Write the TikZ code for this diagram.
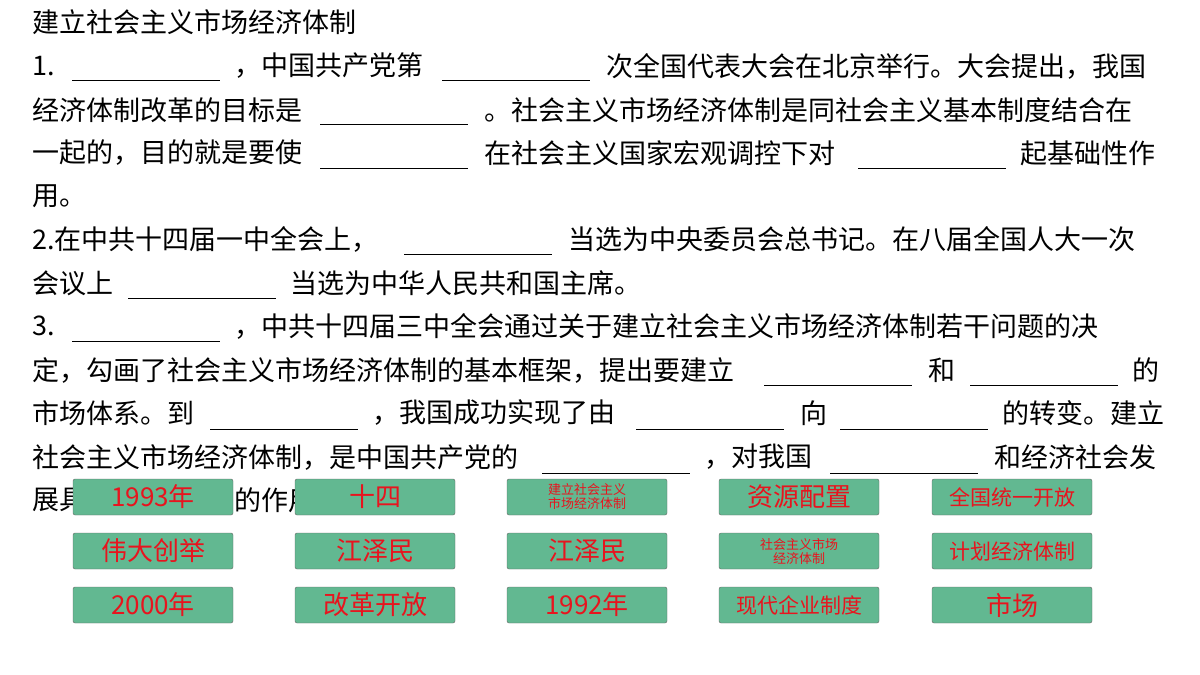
\documentclass[tikz,border=0pt]{standalone}
\usepackage{fontspec}
\setmainfont{Noto Sans CJK SC}
\begin{document}
\begin{tikzpicture}[x=1pt,y=-1pt,
 t/.style={anchor=west,inner sep=0pt,font=\fontsize{27}{27}\selectfont,text=black},
 bl/.style={line width=1pt,black},
 btn/.style={draw=gray!80!black,fill=btnfill,rounded corners=2pt,minimum width=160pt,minimum height=36pt,inner sep=0pt,text=btnred,align=center,font=\fontsize{26}{28}\selectfont},
 mid/.style={font=\fontsize{21}{24}\selectfont},
 sm/.style={font=\fontsize{13}{14}\selectfont}]
\definecolor{btnfill}{HTML}{62B891}
\definecolor{btnred}{HTML}{E8141E}
\useasboundingbox (0,0) rectangle (1200,675);
\newcommand\blank[3]{\draw[bl] (#1,#3) -- (#2,#3);}
\node[t] (l0) at (32,22) {建立社会主义市场经济体制};
% line1
\node[t] (a1) at (32,66) {1.}; \blank{72}{220}{80}
\node[t] (a2) at (234,66) {，中国共产党第}; \blank{442}{590}{80}
\node[t] (a3) at (606,66) {次全国代表大会在北京举行。大会提出，我国};
% line2
\node[t] (b1) at (32,110) {经济体制改革的目标是}; \blank{320}{468}{124}
\node[t] (b2) at (484,110) {。社会主义市场经济体制是同社会主义基本制度结合在};
% line3
\node[t] (c1) at (32,153) {一起的，目的就是要使}; \blank{320}{468}{168}
\node[t] (c2) at (484,153) {在社会主义国家宏观调控下对}; \blank{858}{1006}{168}
\node[t] (c3) at (1020,153) {起基础性作};
\node[t] (d1) at (32,196) {用。};
% line5
\node[t] (e1) at (32,239) {2.在中共十四届一中全会上，}; \blank{404}{552}{254}
\node[t] (e2) at (568,239) {当选为中央委员会总书记。在八届全国人大一次};
\node[t] (f1) at (32,283) {会议上}; \blank{128}{276}{298}
\node[t] (f2) at (290,283) {当选为中华人民共和国主席。};
% line7
\node[t] (g1) at (32,326) {3.}; \blank{72}{220}{341}
\node[t] (g2) at (234,326) {，中共十四届三中全会通过关于建立社会主义市场经济体制若干问题的决};
\node[t] (h1) at (32,370) {定，勾画了社会主义市场经济体制的基本框架，提出要建立}; \blank{764}{912}{385}
\node[t] (h2) at (928,370) {和}; \blank{970}{1118}{385}
\node[t] (h3) at (1132,370) {的};
\node[t] (i1) at (32,413) {市场体系。到}; \blank{210}{358}{429}
\node[t] (i2) at (372,413) {，我国成功实现了由}; \blank{636}{784}{429}
\node[t] (i3) at (800,413) {向}; \blank{840}{988}{429}
\node[t] (i4) at (1002,413) {的转变。建立};
\node[t] (j1) at (32,457) {社会主义市场经济体制，是中国共产党的}; \blank{542}{690}{473}
\node[t] (j2) at (704,457) {，对我国}; \blank{830}{978}{473}
\node[t] (j3) at (994,457) {和经济社会发};
\node[t] (k1) at (32,500) {展具};
\node[t] (k2) at (234,500) {的作用};
% buttons
\node[btn] (p11) at (153,497) {1993年};
\node[btn] (p12) at (375,497) {十四};
\node[btn,sm] (p13) at (587,497) {建立社会主义\\市场经济体制};
\node[btn] (p14) at (799,497) {资源配置};
\node[btn,mid] (p15) at (1012,497) {全国统一开放};
\node[btn] (p21) at (153,551) {伟大创举};
\node[btn] (p22) at (375,551) {江泽民};
\node[btn] (p23) at (587,551) {江泽民};
\node[btn,sm] (p24) at (799,551) {社会主义市场\\经济体制};
\node[btn,mid] (p25) at (1012,551) {计划经济体制};
\node[btn] (p31) at (153,605) {2000年};
\node[btn] (p32) at (375,605) {改革开放};
\node[btn] (p33) at (587,605) {1992年};
\node[btn,mid] (p34) at (799,605) {现代企业制度};
\node[btn] (p35) at (1012,605) {市场};
\end{tikzpicture}
\end{document}
